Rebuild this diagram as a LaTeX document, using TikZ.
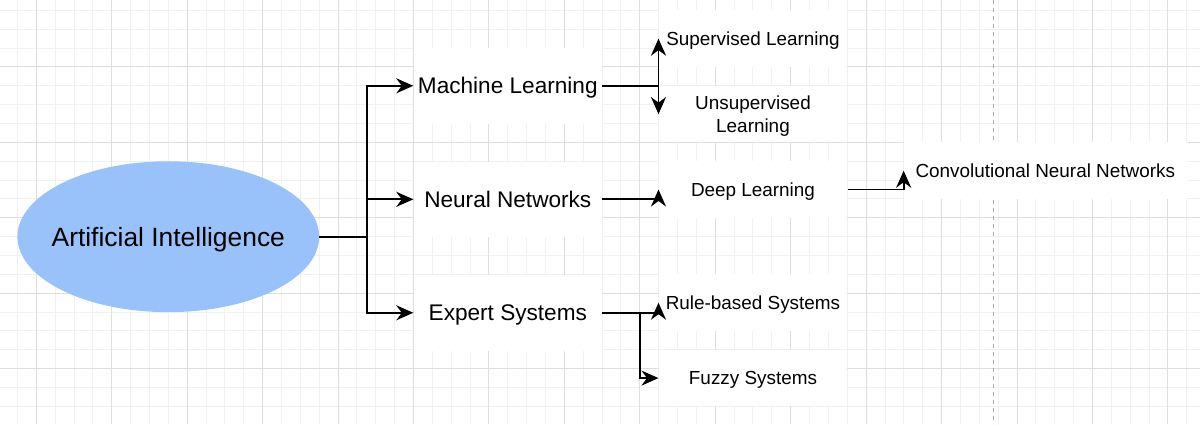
\documentclass[tikz,border=0pt]{standalone}
\usepackage{fontspec}
\setmainfont{Liberation Sans}
\usetikzlibrary{arrows.meta,positioning,shapes.geometric}
\definecolor{aiblue}{RGB}{153,194,250}
\definecolor{gridminor}{RGB}{241,241,241}
\definecolor{gridmajor}{RGB}{222,222,222}
\definecolor{pagebreak}{RGB}{170,170,170}

\begin{document}
\begin{tikzpicture}[x=1pt,y=-1pt,
font=\fontsize{18.9}{22.7}\selectfont,
topic/.style={rectangle, fill=white, inner sep=0pt, text depth=0pt, minimum width=188.6pt, minimum height=75.4pt, font=\fontsize{22.6}{27}\selectfont},
leaf/.style={rectangle, fill=white, inner sep=0pt, text depth=0pt, minimum width=188.6pt, minimum height=56.6pt, align=center},
link/.style={line width=1.9pt, -{Stealth[length=17pt,width=15pt,inset=5.5pt]}}
]
\useasboundingbox (0,0) rectangle (1200,424);
\fill[white] (0,0) rectangle (1200,424);
\foreach \i in {0,...,63}
  \draw[gridminor, line width=1pt] ({-1.42+18.86*\i},0) -- ++(0,424);
\foreach \j in {1,...,22}
  \draw[gridminor, line width=1pt] (0,{-8.5+18.86*\j}) -- ++(1200,0);
\foreach \i in {2,6,...,62}
  \draw[gridmajor, line width=1pt] ({-1.42+18.86*\i},0) -- ++(0,424);
\foreach \j in {4,8,...,20}
  \draw[gridmajor, line width=1pt] (0,{-8.5+18.86*\j}) -- ++(1200,0);
\draw[pagebreak, line width=1pt, dash pattern=on 4pt off 4pt] (993,0) -- (993,424);

\node[ellipse, fill=aiblue, inner sep=0pt, text depth=0pt, minimum width=301.8pt, minimum height=150.9pt,
  font=\fontsize{26.4}{32}\selectfont] (ai) at (168.3,236.7) {\makebox[0pt]{Artificial Intelligence}};
\node[topic] (ml) at (507.8,85.8) {Machine Learning};
\node[topic, below=37.7pt of ml] (nn) {Neural Networks};
\node[topic, below=37.7pt of nn] (es) {Expert Systems};
\node[leaf] (sup) at (753,38.65) {Supervised Learning};
\node[leaf] (unsup) at (753,114.1) {Unsupervised\\Learning};
\node[leaf] (dl) at (753,189.5) {Deep Learning};
\node[leaf, minimum width=282.9pt] (cnn) at (1045.3,170.7) {Convolutional Neural Networks};
\node[leaf] (rule) at (753,302.7) {Rule-based Systems};
\node[leaf] (fuzzy) at (753,378.1) {Fuzzy Systems};

\coordinate (aisplit) at ([xshift=47.2pt]ai.east);
\coordinate (essplit) at ([xshift=38.1pt]es.east);
\draw[line width=1.9pt] (ai.east) -- (aisplit);
\draw[link] (aisplit) |- (ml.west);
\draw[link] (aisplit) |- (nn.west);
\draw[link] (aisplit) |- (es.west);
\draw[link] (ml.east) -| (sup.west);
\draw[link] (ml.east) -| (unsup.west);
\draw[link] (nn.east) -| (dl.west);
\draw[link] (dl.east) -| (cnn.west);
\draw[link] (es.east) -| (rule.west);
\draw[link] (es.east) -- (essplit) |- (fuzzy.west);

\end{tikzpicture}
\end{document}
